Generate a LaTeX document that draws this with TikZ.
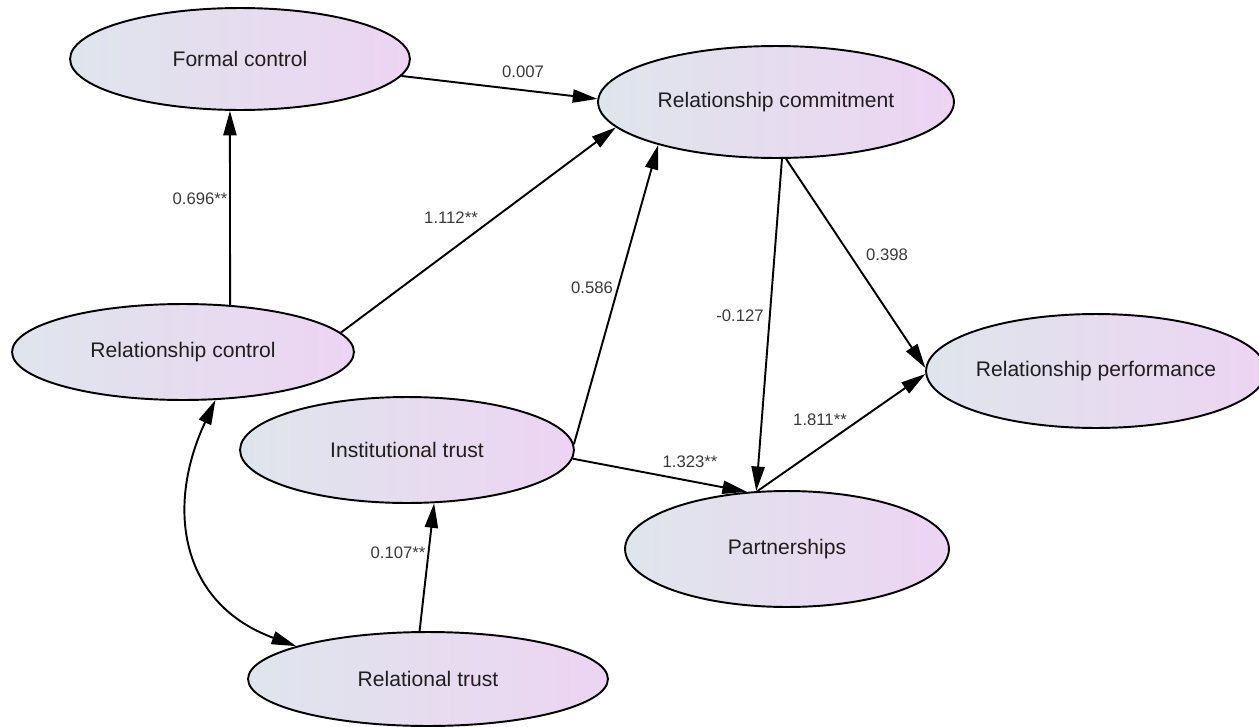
\documentclass[tikz,border=0pt]{standalone}
\usepackage{fontspec}
\setmainfont{Liberation Sans}
\usetikzlibrary{arrows.meta,shapes.geometric}
\definecolor{lvleft}{HTML}{DFE5EC}
\definecolor{lvright}{HTML}{EDD4F3}
\definecolor{coefgray}{HTML}{3A3A3A}
\begin{document}
\begin{tikzpicture}[x=0.02cm,y=-0.02cm,every node/.style={font=\fontsize{12}{14}\selectfont,text=black!88},
  latent/.style={ellipse,draw=black,line width=1.1pt,left color=lvleft,right color=lvright,inner sep=0pt},
  effect/.style={line width=1.1pt,-{Triangle[length=14pt,width=7.5pt]}},
  covar/.style={line width=1.1pt,{Triangle[length=14pt,width=7.5pt]}-{Triangle[length=14pt,width=7.5pt]}},
  coef/.style={font=\fontsize{9.5}{11}\selectfont,text=coefgray}]
\useasboundingbox (0,0) rectangle (1259,727);
\foreach \n/\x/\y/\rx/\ry/\t in {fc/240/59/170/51/Formal control,rcom/776/102/178/56/Relationship commitment,rctrl/183/352/171/48/Relationship control,rperf/1096/371/155/57/Relationship performance,itrust/407/450/167/53/Institutional trust,part/787/549/162/58/Partnerships,rtrust/428/679/180/47/Relational trust} {
  \node[latent,minimum width=\rx*0.04cm,minimum height=\ry*0.04cm] (\n) at (\x,\y) {\t};
}
\foreach \a/\b in {fc.-6/rcom.179,rctrl.45/fc.-101,rctrl.7/rcom.-171,itrust.2/rcom.-160,itrust.-3/part.125,rcom.-84/part.118,rcom.-80/rperf.179,part.117/rperf.181,rtrust.100/itrust.-63} {
  \draw[effect] (\a) -- (\b);
}
\draw[covar] (rctrl.-56) to[out=-115,in=160,looseness=1.2] (rtrust.166);
\foreach \n/\x/\y/\t in {b1/523/72/0.007,b2/200/199/0.696**,b3/451/218/1.112**,b4/592/288/0.586,b5/690/462/1.323**,b6/740/316/-0.127,b7/887/255/0.398,b8/820/420/1.811**,b9/398/553/0.107**} {
  \node[coef] (\n) at (\x,\y) {\t};
}
\end{tikzpicture}
\end{document}
